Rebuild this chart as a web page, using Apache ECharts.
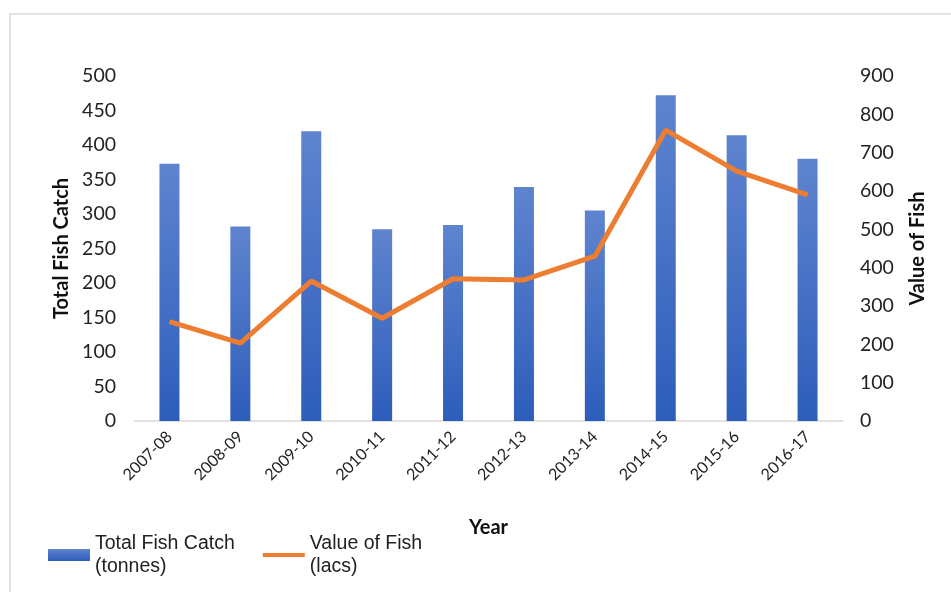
<!DOCTYPE html>
<html>
<head>
<meta charset="utf-8">
<script src="https://cdn.jsdelivr.net/npm/echarts@6/dist/echarts.min.js"></script>
<style>html,body{margin:0;padding:0;background:#fff;}#c{width:951px;height:592px;}</style>
</head>
<body>
<div id="c"></div>
<script>
const years = ['2007-08','2008-09','2009-10','2010-11','2011-12','2012-13','2013-14','2014-15','2015-16','2016-17'];
const totalCatch = [373, 282, 420, 278, 284, 339, 305, 472, 414, 380];
const fishValue = [259, 203, 365, 268, 371, 368, 430, 759, 652, 590];
const leftTicks = [0, 500, 50];
const rightTicks = [0, 900, 100];

const FONT = 'Lato, "Noto Sans", sans-serif';
const chart = echarts.init(document.getElementById('c'));
chart.setOption({
  animation: false,
  backgroundColor: '#fff',
  graphic: [
    { type: 'rect', shape: { x: 10, y: 14, width: 960, height: 600 },
      style: { fill: 'none', stroke: '#d9d9d9', lineWidth: 1.5 }, z: -1 }
  ],
  grid: { left: 134, right: 108, top: 76, bottom: 171 },
  legend: {
    left: 43, top: 527, itemWidth: 42, itemHeight: 12, itemGap: 28,
    textStyle: { fontFamily: '"Liberation Sans", sans-serif', fontSize: 19.5, color: '#222', lineHeight: 23 },
    formatter: n => n.replace(' (', '\n('),
    data: [
      { name: 'Total Fish Catch (tonnes)', icon: 'rect' },
      { name: 'Value of Fish (lacs)', icon: 'path://M0,5 L42,5 L42,9 L0,9 Z' }
    ]
  },
  xAxis: {
    type: 'category', data: years,
    name: 'Year', nameLocation: 'middle', nameGap: 97,
    nameTextStyle: { fontFamily: FONT, fontWeight: 'bold', fontSize: 20, color: '#111' },
    axisLine: { lineStyle: { color: '#d9d9d9', width: 1.5 } },
    axisTick: { show: false },
    axisLabel: { rotate: 45, fontFamily: FONT, fontSize: 16, color: '#222', margin: 13 }
  },
  yAxis: [
    {
      type: 'value', min: leftTicks[0], max: leftTicks[1], interval: leftTicks[2],
      name: 'Total Fish Catch', nameLocation: 'middle', nameGap: 61,
      nameTextStyle: { fontFamily: FONT, fontWeight: 'bold', fontSize: 20, color: '#111' },
      splitLine: { show: false }, axisLine: { show: false }, axisTick: { show: false },
      axisLabel: { fontFamily: FONT, fontSize: 19.5, color: '#222', margin: 18 }
    },
    {
      type: 'value', min: rightTicks[0], max: rightTicks[1], interval: rightTicks[2],
      name: 'Value of Fish', nameLocation: 'middle', nameGap: 65,
      nameTextStyle: { fontFamily: FONT, fontWeight: 'bold', fontSize: 20, color: '#111' },
      splitLine: { show: false }, axisLine: { show: false }, axisTick: { show: false },
      axisLabel: { fontFamily: FONT, fontSize: 19.5, color: '#222', margin: 17 }
    }
  ],
  series: [
    {
      name: 'Total Fish Catch (tonnes)', type: 'bar', data: totalCatch, barWidth: 20,
      itemStyle: { color: new echarts.graphic.LinearGradient(0, 0, 0, 1, [
        { offset: 0, color: '#5f84cf' }, { offset: 1, color: '#2d5dbb' }
      ]) }
    },
    {
      name: 'Value of Fish (lacs)', type: 'line', yAxisIndex: 1, data: fishValue,
      symbol: 'none', lineStyle: { color: '#ed7d31', width: 5 }, itemStyle: { color: '#ed7d31' }
    }
  ]
});
</script>
</body>
</html>
